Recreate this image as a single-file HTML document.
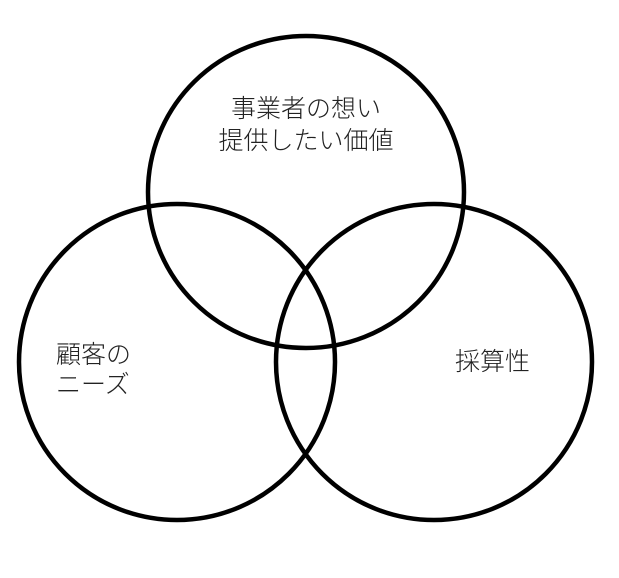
<!DOCTYPE html>
<html><head><meta charset="utf-8"><style>
html,body{margin:0;padding:0;background:#fff;}
svg{display:block}
text{font-family:"Liberation Sans","Noto Sans CJK JP",sans-serif;font-size:25px;fill:#222;font-weight:300;}
</style></head><body>
<svg width="619" height="578" viewBox="0 0 619 578" xmlns="http://www.w3.org/2000/svg">
<g fill="none" stroke="#000" stroke-width="4.5">
<ellipse cx="306" cy="192" rx="158" ry="156"/>
<ellipse cx="177" cy="362" rx="158" ry="158"/>
<ellipse cx="434" cy="362" rx="158" ry="158"/>
</g>
<text x="306" y="117" text-anchor="middle">事業者の想い</text>
<text x="306" y="149" text-anchor="middle">提供したい価値</text>
<text x="56" y="363">顧客の</text>
<text x="56" y="393">ニーズ</text>
<text x="455" y="370">採算性</text>
</svg>
</body></html>
